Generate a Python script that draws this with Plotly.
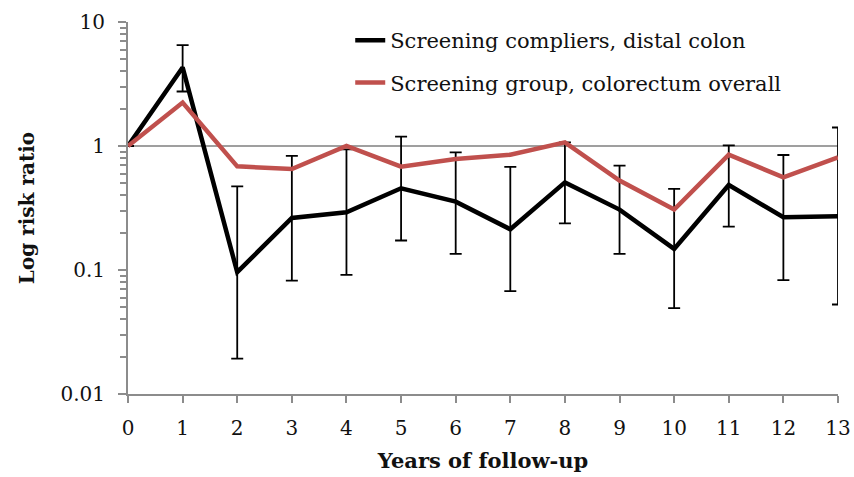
import plotly.graph_objects as go

years = list(range(14))
compliers_distal = [1.0, 4.3, 0.096, 0.263, 0.292, 0.456, 0.356, 0.213, 0.509, 0.307, 0.148, 0.485, 0.266, 0.271]
compliers_upper = [None, 6.5, 0.473, 0.831, 0.94, 1.19, 0.888, 0.678, 1.07, 0.694, 0.451, 1.01, 0.846, 1.41]
compliers_lower = [None, 2.75, 0.0193, 0.0822, 0.0914, 0.173, 0.135, 0.0675, 0.238, 0.135, 0.0493, 0.224, 0.0828, 0.0527]
group_overall = [1.0, 2.24, 0.685, 0.653, 1.0, 0.681, 0.786, 0.851, 1.07, 0.526, 0.307, 0.851, 0.559, 0.81]

err_plus = [0 if u is None else u - v for u, v in zip(compliers_upper, compliers_distal)]
err_minus = [0 if l is None else v - l for l, v in zip(compliers_lower, compliers_distal)]

FONT = "DejaVu Serif"

fig = go.Figure()
fig.add_trace(go.Scatter(
    x=years, y=compliers_distal, mode="lines",
    name="Screening compliers, distal colon",
    line=dict(color="#000000", width=4.5),
    error_y=dict(type="data", symmetric=False, array=err_plus, arrayminus=err_minus,
                 color="#000000", thickness=1.8, width=6),
    legendgroup="a",
))
fig.add_trace(go.Scatter(
    x=years, y=group_overall, mode="lines",
    name="Screening group, colorectum overall",
    line=dict(color="#C0504D", width=4.5),
    legendgroup="b",
))

fig.add_shape(type="line", xref="x", yref="y", x0=0, x1=13, y0=1, y1=1,
              line=dict(color="#404040", width=1.2), layer="below")

fig.update_layout(
    width=854, height=477,
    margin=dict(l=128, r=16, t=22, b=83, autoexpand=False),
    plot_bgcolor="white", paper_bgcolor="white",
    font=dict(family=FONT, size=20, color="#111111"),
    showlegend=True,
    legend=dict(x=0.313, y=1.005, xanchor="left", yanchor="top",
                font=dict(family=FONT, size=21, color="#111111"),
                traceorder="grouped", tracegroupgap=12,
                bgcolor="rgba(0,0,0,0)"),
    xaxis=dict(
        range=[0, 13], tickmode="array", tickvals=years, ticktext=[str(y) for y in years],
        showgrid=False, zeroline=False, showline=True, linecolor="#8c8c8c", linewidth=2,
        ticks="outside", ticklen=7, tickcolor="#8c8c8c", tickwidth=2, automargin=False,
        ticklabelstandoff=8,
        tickfont=dict(family=FONT, size=20, color="#111111"),
        title=dict(text="<b>Years of follow-up</b>", font=dict(family=FONT, size=21, color="#111111"), standoff=14),
    ),
    yaxis=dict(
        type="log", range=[-2, 1], tickmode="array", tickvals=[0.01, 0.1, 1, 10],
        ticktext=["0.01", "0.1", "1", "10"],
        showgrid=False, zeroline=False, showline=True, linecolor="#8c8c8c", linewidth=2,
        ticks="outside", ticklen=8, tickcolor="#8c8c8c", tickwidth=2, automargin=False,
        ticklabelstandoff=9,
        tickfont=dict(family=FONT, size=20, color="#111111"),
        minor=dict(ticks="outside", ticklen=6, tickcolor="#8c8c8c", tickwidth=1.5, dtick="D1", showgrid=False),
        title=dict(text="<b>Log risk ratio</b>", font=dict(family=FONT, size=20, color="#111111"), standoff=20),
    ),
)

fig.write_html("out.html")
